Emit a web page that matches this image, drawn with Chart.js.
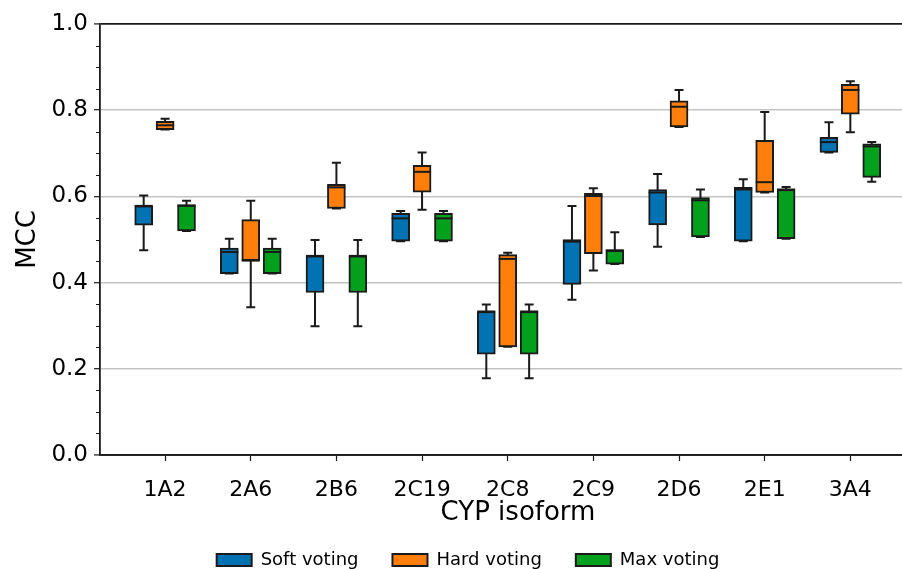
<!DOCTYPE html>
<html>
<head>
<meta charset="utf-8">
<title>MCC by CYP isoform</title>
<script src="https://cdn.jsdelivr.net/npm/chart.js@4.4.0/dist/chart.umd.min.js"></script>
<style>
  html, body { margin: 0; padding: 0; background: #fff; overflow: hidden; }
  #wrap { width: 940px; height: 590px; }
</style>
</head>
<body>
<div id="wrap"><canvas id="mcc" width="940" height="590"></canvas></div>
<script>
// CYP isoforms along the x axis
const isoforms = ['1A2', '2A6', '2B6', '2C19', '2C8', '2C9', '2D6', '2E1', '3A4'];
const yTicks = [0.0, 0.2, 0.4, 0.6, 0.8, 1.0];

// Soft voting: whisker low, Q1, median, Q3, whisker high
const softLow  = [0.475, 0.421, 0.299, 0.496, 0.178, 0.360, 0.483, 0.496, 0.702];
const softQ1   = [0.533, 0.421, 0.377, 0.496, 0.234, 0.396, 0.534, 0.496, 0.702];
const softMed  = [0.578, 0.471, 0.462, 0.549, 0.333, 0.495, 0.609, 0.616, 0.726];
const softQ3   = [0.578, 0.480, 0.462, 0.561, 0.333, 0.500, 0.616, 0.621, 0.737];
const softHigh = [0.602, 0.502, 0.499, 0.566, 0.349, 0.578, 0.652, 0.640, 0.772];

// Hard voting
const hardLow  = [0.755, 0.343, 0.572, 0.569, 0.251, 0.428, 0.761, 0.609, 0.749];
const hardQ1   = [0.755, 0.451, 0.572, 0.610, 0.251, 0.467, 0.761, 0.609, 0.791];
const hardMed  = [0.765, 0.451, 0.621, 0.657, 0.455, 0.601, 0.808, 0.633, 0.847];
const hardQ3   = [0.774, 0.546, 0.628, 0.672, 0.465, 0.607, 0.822, 0.730, 0.860];
const hardHigh = [0.780, 0.590, 0.678, 0.702, 0.469, 0.619, 0.847, 0.796, 0.867];

// Max voting
const maxLow  = [0.520, 0.421, 0.299, 0.496, 0.178, 0.443, 0.506, 0.502, 0.634];
const maxQ1   = [0.520, 0.421, 0.377, 0.496, 0.234, 0.443, 0.506, 0.502, 0.644];
const maxMed  = [0.578, 0.471, 0.462, 0.549, 0.333, 0.475, 0.591, 0.616, 0.716];
const maxQ3   = [0.581, 0.480, 0.462, 0.561, 0.333, 0.475, 0.597, 0.616, 0.722];
const maxHigh = [0.590, 0.502, 0.499, 0.566, 0.349, 0.517, 0.616, 0.622, 0.726];

const series = [
    { label: 'Soft voting', color: '#0173B2', shift: -0.25, lo: softLow, q1: softQ1, med: softMed, q3: softQ3, hi: softHigh },
    { label: 'Hard voting', color: '#FF7F0A', shift: 0,     lo: hardLow, q1: hardQ1, med: hardMed, q3: hardQ3, hi: hardHigh },
    { label: 'Max voting',  color: '#02A01C', shift: 0.25,  lo: maxLow,  q1: maxQ1,  med: maxMed,  q3: maxQ3,  hi: maxHigh }
];

const ink = '#1a1a1a';

// Boxes are floating bars from Q1 to Q3
const datasets = series.map(s => ({
    label: s.label,
    data: isoforms.map((name, i) => ({ x: i + 1 + s.shift, y: [s.q1[i], s.q3[i]] })),
    backgroundColor: s.color,
    borderColor: ink,
    borderWidth: 2,
    borderSkipped: false,
    barThickness: 18,
    grouped: false,
    stats: s
}));

// Whiskers go under the boxes, medians on top
const boxWhiskers = {
    id: 'boxWhiskers',
    beforeDatasetsDraw(chart) {
        const { ctx, scales: { y } } = chart;
        ctx.save();
        ctx.strokeStyle = ink;
        ctx.lineWidth = 2;
        chart.data.datasets.forEach((ds, d) => {
            chart.getDatasetMeta(d).data.forEach((bar, i) => {
                const lo = y.getPixelForValue(ds.stats.lo[i]);
                const hi = y.getPixelForValue(ds.stats.hi[i]);
                const cap = bar.width / 4;
                ctx.beginPath();
                ctx.moveTo(bar.x, lo); ctx.lineTo(bar.x, hi);
                ctx.moveTo(bar.x - cap, lo); ctx.lineTo(bar.x + cap, lo);
                ctx.moveTo(bar.x - cap, hi); ctx.lineTo(bar.x + cap, hi);
                ctx.stroke();
            });
        });
        ctx.restore();
    },
    afterDatasetsDraw(chart) {
        const { ctx, scales: { y } } = chart;
        ctx.save();
        ctx.strokeStyle = ink;
        ctx.lineWidth = 2;
        chart.data.datasets.forEach((ds, d) => {
            chart.getDatasetMeta(d).data.forEach((bar, i) => {
                const m = y.getPixelForValue(ds.stats.med[i]);
                ctx.beginPath();
                ctx.moveTo(bar.x - bar.width / 2, m);
                ctx.lineTo(bar.x + bar.width / 2, m);
                ctx.stroke();
            });
        });
        ctx.restore();
    }
};

// Minor tick marks every 0.05 on the y axis
const minorTicks = {
    id: 'minorTicks',
    afterDraw(chart) {
        const { ctx, scales: { y }, chartArea } = chart;
        ctx.save();
        ctx.strokeStyle = ink;
        ctx.lineWidth = 1;
        for (let k = 1; k < 20; k++) {
            if (k % 4 === 0) continue;
            const py = Math.round(y.getPixelForValue(k * 0.05)) + 0.5;
            ctx.beginPath();
            ctx.moveTo(chartArea.left - 4, py);
            ctx.lineTo(chartArea.left, py);
            ctx.stroke();
        }
        ctx.restore();
    }
};

Chart.defaults.font.family = "'DejaVu Sans', 'Noto Sans', sans-serif";
Chart.defaults.color = '#000';

new Chart(document.getElementById('mcc'), {
    type: 'bar',
    data: { datasets },
    plugins: [boxWhiskers, minorTicks],
    options: {
        responsive: false,
        animation: false,
        layout: { padding: { left: 0, top: 24, right: 4, bottom: 11 } },
        plugins: {
            tooltip: { enabled: false },
            legend: {
                position: 'bottom',
                labels: {
                    boxWidth: 35,
                    boxHeight: 12,
                    padding: 34,
                    color: '#000',
                    font: { size: 18 }
                }
            }
        },
        scales: {
            x: {
                type: 'linear',
                min: 0.24,
                max: 10,
                offset: false,
                afterBuildTicks: axis => {
                    axis.ticks = isoforms.map((name, i) => ({ value: i + 1 }));
                },
                afterFit: axis => { axis.height = 62; },
                ticks: {
                    autoSkip: false,
                    maxRotation: 0,
                    padding: 16,
                    font: { size: 22 },
                    callback: v => isoforms[Math.round(v) - 1] || ''
                },
                grid: {
                    offset: false,
                    drawOnChartArea: false,
                    tickLength: 6,
                    tickColor: ink,
                    tickWidth: 1.2
                },
                border: { display: true, color: ink, width: 1.8 },
                title: {
                    display: true,
                    text: 'CYP isoform',
                    font: { size: 26, lineHeight: 0.3 },
                    padding: 0
                }
            },
            y: {
                min: 0,
                max: 1,
                afterBuildTicks: axis => {
                    axis.ticks = yTicks.map(v => ({ value: v }));
                },
                afterFit: axis => { axis.width = 100; },
                ticks: {
                    padding: 6,
                    font: { size: 23 },
                    callback: v => v.toFixed(1)
                },
                grid: {
                    color: c => (c.tick.value >= 1 || c.tick.value <= 0) ? ink : '#c4c4c4',
                    lineWidth: c => (c.tick.value >= 1 || c.tick.value <= 0) ? 1.8 : 1.4,
                    tickLength: 6,
                    tickColor: ink,
                    tickWidth: 1.2
                },
                border: { display: true, color: ink, width: 1.8 },
                title: {
                    display: true,
                    text: 'MCC',
                    font: { size: 26, lineHeight: 1 },
                    padding: { top: 15, bottom: 0 }
                }
            }
        }
    }
});
</script>
</body>
</html>
